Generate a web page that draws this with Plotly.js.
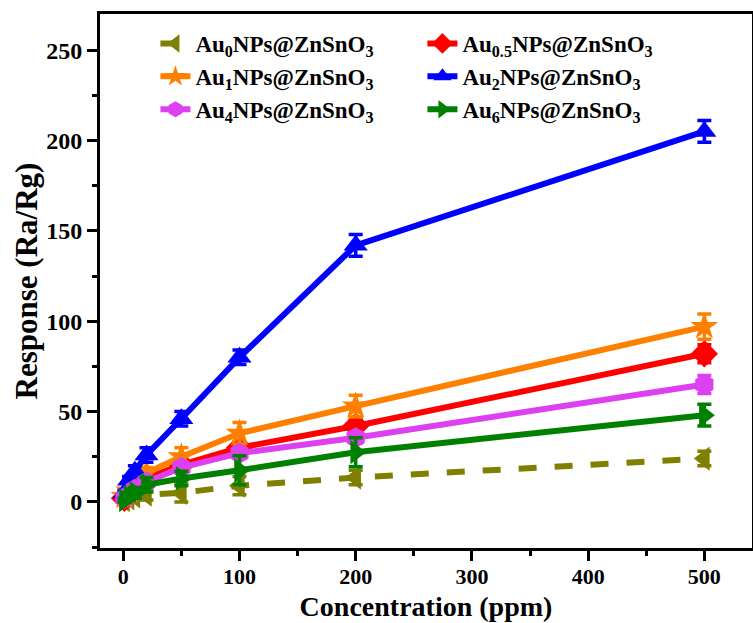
<!DOCTYPE html>
<html>
<head>
<meta charset="utf-8">
<script src="https://cdn.plot.ly/plotly-3.0.1.min.js"></script>
<style>html,body{margin:0;padding:0;background:#fff;}#chart{width:753px;height:623px;}</style>
</head>
<body>
<div id="chart"></div>
<script>
const concentration = [1, 5, 10, 20, 50, 100, 200, 500];

const au0 = [1, 2, 3, 4, 5, 9, 13.5, 24];
const au0Err = [1, 2, 2, 3, 5, 5, 4, 4];
const au05 = [2, 5, 8, 13, 20.5, 30, 42, 82];
const au05Err = [1, 1, 2, 2, 3, 3, 4, 5];
const au1 = [3, 6, 10, 16, 25, 38, 53, 97];
const au1Err = [1, 2, 2, 3, 5, 6, 6, 7];
const au2 = [5, 12, 17, 26, 46, 80, 142, 205];
const au2Err = [1.5, 2, 3, 4, 4, 4, 6, 6];
const au4 = [2, 4, 7, 11, 19, 27, 35.5, 65];
const au4Err = [1, 1, 2, 2, 3, 3, 3, 5];
const au6 = [1, 3, 5, 9.5, 13, 17.5, 27.5, 48];
const au6Err = [1, 2, 3, 4, 4, 8, 8, 6];

const names = ['Au<sub>0</sub>NPs@ZnSnO<sub>3</sub>', 'Au<sub>0.5</sub>NPs@ZnSnO<sub>3</sub>',
  'Au<sub>1</sub>NPs@ZnSnO<sub>3</sub>', 'Au<sub>2</sub>NPs@ZnSnO<sub>3</sub>',
  'Au<sub>4</sub>NPs@ZnSnO<sub>3</sub>', 'Au<sub>6</sub>NPs@ZnSnO<sub>3</sub>'];
const colors = ['#808000', '#ff0000', '#ff8000', '#0000ff', '#dd40f0', '#008000'];
const symbols = ['triangle-left', 'diamond', 'star', 'triangle-up', 'hexagon', 'triangle-right'];
const ys = [au0, au05, au1, au2, au4, au6];
const errs = [au0Err, au05Err, au1Err, au2Err, au4Err, au6Err];

const traces = ys.map((y, i) => ({
  x: concentration, y: y, name: names[i], type: 'scatter', mode: 'lines+markers',
  line: {color: colors[i], width: 6, dash: i === 0 ? 'dash' : 'solid'},
  marker: {symbol: symbols[i], size: 21, color: colors[i]},
  error_y: {type: 'data', array: errs[i], visible: true, color: colors[i], thickness: 3.5, width: 7}
}));

const font = {family: '"Liberation Serif", "Times New Roman", serif', color: '#000'};
const layout = {
  width: 753, height: 623,
  margin: {l: 100, r: 1, t: 14, b: 75},
  paper_bgcolor: '#fff', plot_bgcolor: '#fff',
  showlegend: true,
  legend: {orientation: 'h', x: 0.085, y: 0.985, xanchor: 'left', yanchor: 'top',
    entrywidth: 222, bgcolor: 'rgba(0,0,0,0)',
    font: Object.assign({}, font, {size: 23, weight: 'bold'})},
  xaxis: {
    range: [-20, 541], tickvals: [0, 100, 200, 300, 400, 500],
    showgrid: false, zeroline: false, showline: true, linecolor: '#000', linewidth: 3, mirror: true,
    ticks: 'outside', ticklen: 10, tickwidth: 3, tickcolor: '#000', ticklabelstandoff: -3,
    minor: {dtick: 50, ticks: 'outside', ticklen: 5, tickwidth: 3, tickcolor: '#000'},
    tickfont: Object.assign({}, font, {size: 22, weight: 'bold'}),
    title: {text: 'Concentration (ppm)', font: Object.assign({}, font, {size: 28, weight: 'bold'}), standoff: 8}
  },
  yaxis: {
    range: [-25.5, 270], tickvals: [0, 50, 100, 150, 200, 250],
    showgrid: false, zeroline: false, showline: true, linecolor: '#000', linewidth: 3, mirror: true,
    ticks: 'outside', ticklen: 10, tickwidth: 3, tickcolor: '#000',
    minor: {dtick: 25, ticks: 'outside', ticklen: 5, tickwidth: 3, tickcolor: '#000'},
    tickfont: Object.assign({}, font, {size: 24, weight: 'bold'}),
    title: {text: 'Response (Ra/Rg)', font: Object.assign({}, font, {size: 31, weight: 'bold'}), standoff: 0}
  }
};
Plotly.newPlot('chart', traces, layout, {displayModeBar: false});
</script>
</body>
</html>
